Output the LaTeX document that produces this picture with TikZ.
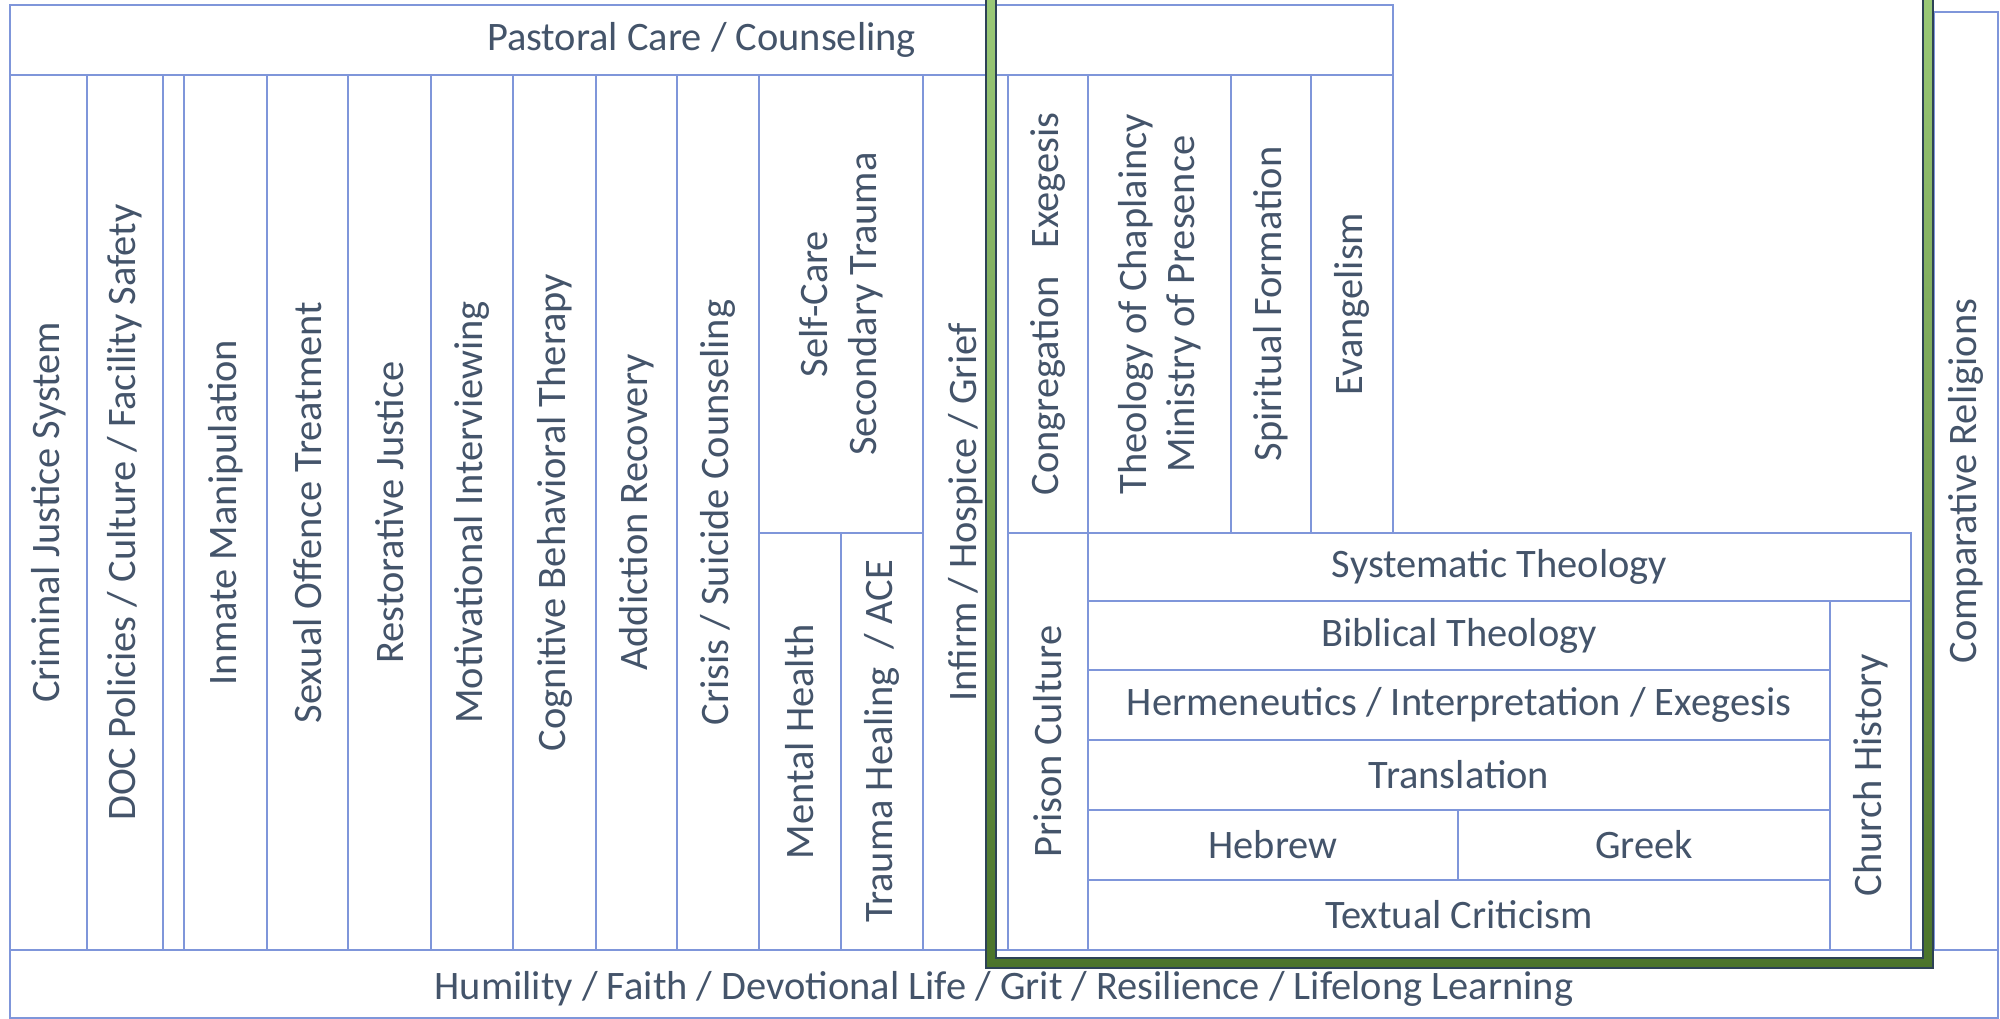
\documentclass[tikz,border=0pt]{standalone}
\usepackage{fontspec}
\setmainfont{Carlito}
\definecolor{gridline}{HTML}{7F96DA}
\definecolor{labeltext}{HTML}{44546A}
\definecolor{frametop}{HTML}{9DCC7A}
\definecolor{framebot}{HTML}{4B742B}
\definecolor{frameedge}{HTML}{2D4255}

\begin{document}
\begin{tikzpicture}[x=0.01cm,y=-0.01cm,
    cell/.style={draw=gridline, line width=0.6pt},
    hlabel/.style={text=labeltext, font=\fontsize{11.5}{13.8}\selectfont, align=center, inner sep=0pt},
    vlabel/.style={hlabel, rotate=90}]

    \useasboundingbox (0,0) rectangle (2000,1019);
    \clip (0,0) rectangle (2000,1019);

    \draw [cell] (10,5) rectangle (1393,75);
    \node [hlabel] (pastoral) at (701.5,40) {Pastoral Care / Counseling};

    \draw [cell] (10,75) rectangle (87,950);
    \draw [cell] (87,75) rectangle (163,950);
    \draw [cell] (163,75) rectangle (184,950);
    \draw [cell] (184,75) rectangle (267,950);
    \draw [cell] (267,75) rectangle (348,950);
    \draw [cell] (348,75) rectangle (431,950);
    \draw [cell] (431,75) rectangle (513,950);
    \draw [cell] (513,75) rectangle (596,950);
    \draw [cell] (596,75) rectangle (677,950);
    \draw [cell] (677,75) rectangle (759,950);
    \draw [cell] (759,75) rectangle (923,533);
    \draw [cell] (759,533) rectangle (841,950);
    \draw [cell] (841,533) rectangle (923,950);
    \draw [cell] (923,75) rectangle (1008,950);

    \node [vlabel] (justice) at (48.5,512.5) {Criminal Justice System};
    \node [vlabel] (doc) at (125,512.5) {DOC Policies / Culture / Facility Safety};
    \node [vlabel] (manipulation) at (225.5,512.5) {Inmate Manipulation};
    \node [vlabel] (offence) at (307.5,512.5) {Sexual Offence Treatment};
    \node [vlabel] (restorative) at (389.5,512.5) {Restorative Justice};
    \node [vlabel] (motivational) at (472,512.5) {Motivational Interviewing};
    \node [vlabel] (cbt) at (554.5,512.5) {Cognitive Behavioral Therapy};
    \node [vlabel] (addiction) at (636.5,512.5) {Addiction Recovery};
    \node [vlabel] (crisis) at (718,512.5) {Crisis / Suicide Counseling};
    \node [vlabel] (selfcare) at (841,304) {Self-Care\\Secondary Trauma};
    \node [vlabel] (mental) at (800,741.5) {Mental Health};
    \node [vlabel] (trauma) at (882,741.5) {Trauma Healing \ / ACE};
    \node [vlabel] (infirm) at (965.5,512.5) {Infirm / Hospice / Grief};

    \draw [cell] (1008,75) rectangle (1088,533);
    \draw [cell] (1088,75) rectangle (1231,533);
    \draw [cell] (1231,75) rectangle (1311,533);
    \draw [cell] (1311,75) rectangle (1393,533);

    \node [vlabel] (congregation) at (1048,304) {Congregation\ \ \ Exegesis};
    \node [vlabel] (chaplaincy) at (1159.5,304) {Theology of Chaplaincy\\Ministry of Presence};
    \node [vlabel] (formation) at (1271,304) {Spiritual Formation};
    \node [vlabel] (evangelism) at (1352,304) {Evangelism};

    \draw [cell] (1008,533) rectangle (1088,950);
    \draw [cell] (1088,533) rectangle (1911,601);
    \draw [cell] (1830,601) rectangle (1911,950);
    \draw [cell] (1088,601) rectangle (1830,670);
    \draw [cell] (1088,670) rectangle (1830,740);
    \draw [cell] (1088,740) rectangle (1830,810);
    \draw [cell] (1088,810) rectangle (1458,880);
    \draw [cell] (1458,810) rectangle (1830,880);
    \draw [cell] (1088,880) rectangle (1830,950);

    \node [vlabel] (prison) at (1048,741.5) {Prison Culture};
    \node [hlabel] (systematic) at (1499.5,567) {Systematic Theology};
    \node [vlabel] (church) at (1870.5,775.5) {Church History};
    \node [hlabel] (biblical) at (1459,635.5) {Biblical Theology};
    \node [hlabel] (hermeneutics) at (1459,705) {Hermeneutics / Interpretation / Exegesis};
    \node [hlabel] (translation) at (1459,775) {Translation};
    \node [hlabel] (hebrew) at (1273,845) {Hebrew};
    \node [hlabel] (greek) at (1644,845) {Greek};
    \node [hlabel] (textual) at (1459,915) {Textual Criticism};

    \draw [cell] (1934,12) rectangle (1998,950);
    \node [vlabel] (comparative) at (1966,481) {Comparative Religions};

    \draw [cell] (10,950) rectangle (1998,1018);

    \shade [top color=frametop, bottom color=framebot, even odd rule]
        (986,-40) rectangle (1933,968) (996,-30) rectangle (1923,958);
    \draw [frameedge, line width=0.4pt] (986,-40) rectangle (1933,968);
    \draw [frameedge, line width=0.4pt] (996,-30) rectangle (1923,958);

    \node [hlabel] (humility) at (1004,989) {Humility / Faith / Devotional Life / Grit / Resilience / Lifelong Learning};

\end{tikzpicture}
\end{document}
